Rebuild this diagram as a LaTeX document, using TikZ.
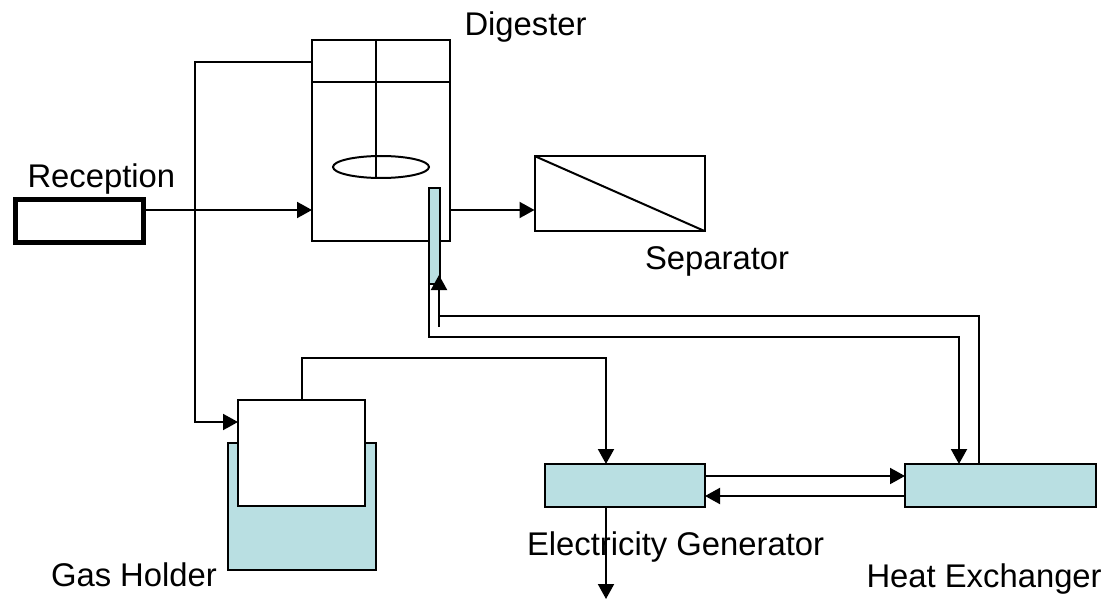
\documentclass[tikz,border=0pt]{standalone}
\usepackage{fontspec}
\setmainfont{Liberation Sans}
\usetikzlibrary{arrows.meta,shapes.geometric}
\definecolor{tankblue}{HTML}{B9DFE2}
\tikzset{
  unit/.style={draw,inner sep=0pt,outer sep=0pt,anchor=north west},
  flow/.style={-{Triangle[length=15pt,width=16pt]}},
  tag/.style={anchor=base west,inner sep=0pt,font=\fontsize{32.8pt}{36pt}\selectfont},
}
\begin{document}
\begin{tikzpicture}[x=1pt,y=-1pt,line width=2pt]
  \useasboundingbox (0,0) rectangle (1109,599);
  \path (0,210) coordinate (feedY) (195,62) coordinate (gasA) (195,422) coordinate (gasB)
    (606,358) coordinate (powerA) (439,327) coordinate (loopIn) (0,316) coordinate (loopTop)
    (0,337) coordinate (loopLow) (606,599) coordinate (powerOut) (0,476) coordinate (linkA) (0,496) coordinate (linkB);
  \node[unit,line width=5.2pt,minimum width=128pt,minimum height=43pt] (reception) at (15.5,199.5) {};
  \node[unit,minimum width=138pt,minimum height=201pt] (digester) at (312,40) {};
  \node[unit,minimum width=170pt,minimum height=75pt] (separator) at (534.5,156) {};
  \node[unit,fill=tankblue,minimum width=10.5pt,minimum height=95.5pt] (tube) at (429,188.5) {};
  \node[unit,fill=tankblue,minimum width=148.5pt,minimum height=127pt] (tank) at (227.5,443) {};
  \node[unit,fill=white,minimum width=127pt,minimum height=106pt] (bell) at (238,400) {};
  \node[unit,fill=tankblue,minimum width=160pt,minimum height=43pt] (generator) at (545,464) {};
  \node[unit,fill=tankblue,minimum width=191pt,minimum height=43pt] (exchanger) at (905,464) {};
  % digester internals
  \node[draw,ellipse,inner sep=0pt,minimum width=96pt,minimum height=22pt] (paddle) at (381,167) {};
  \draw (digester.west |- 0,82) -- (digester.east |- 0,82);
  \draw (376,40) -- (376,178);
  \draw (separator.north west) -- (separator.south east);
  % flows
  \draw[flow] (reception.east |- feedY) -- (digester.west |- feedY);
  \draw[flow] (digester.east |- feedY) -- (separator.west |- feedY);
  \draw[flow] (digester.west |- gasA) -- (gasA) -- (gasB) -- (bell.west |- gasB);
  \draw[flow] (bell.north) -- (bell.north |- powerA) -- (powerA) -- (generator.north -| powerA);
  \draw[flow] (generator.east |- linkA) -- (exchanger.west |- linkA);
  \draw[flow] (exchanger.west |- linkB) -- (generator.east |- linkB);
  \draw[flow] (generator.south -| powerOut) -- (powerOut);
  \draw[flow] (tube.south west) -- (tube.south west |- loopLow) -- (959,337) -- (959,464);
  \draw (979,464) -- (979,316) -- (loopIn |- loopTop);
  \draw[flow] (loopIn) -- (439,275);
  % labels
  \node[tag] (digesterTag) at (463.5,36) {Digester};
  \node[tag] (receptionTag) at (26.5,187) {Reception};
  \node[tag] (separatorTag) at (644,269) {Separator};
  \node[tag] (gasTag) at (50,586) {Gas Holder};
  \node[tag] (generatorTag) at (526,555) {Electricity Generator};
  \node[tag] (exchangerTag) at (865.5,587) {Heat Exchanger};
\end{tikzpicture}
\end{document}
